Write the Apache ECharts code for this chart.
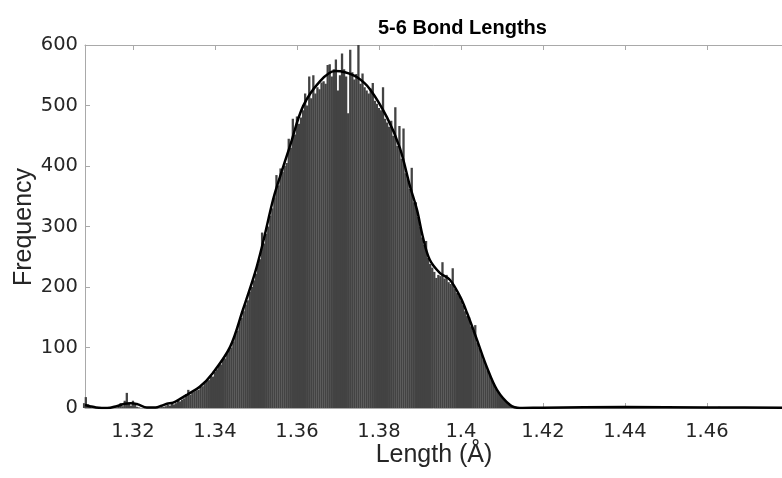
<!DOCTYPE html>
<html>
<head>
<meta charset="utf-8">
<script src="https://cdn.jsdelivr.net/npm/echarts@6/dist/echarts.min.js"></script>
<style>
html,body{margin:0;padding:0;background:#fff;}
#chart{width:782px;height:478px;}
</style>
</head>
<body>
<div id="chart"></div>
<script>
// Histogram: bin centres start at binStart, spaced by binWidth
var binStart = 1.3080;
var binWidth = 0.0005;
var counts = [
  8,18,6,3,1,0,0,0,0,0,
  0,0,0,1,0,2,1,4,8,3,
  12,25,9,4,12,5,2,1,0,0,
  0,0,0,1,0,1,2,1,3,2,
  3,5,4,9,6,8,12,11,14,16,
  23,30,22,25,27,29,30,35,36,42,
  45,46,53,52,60,64,70,72,83,82,
  90,96,100,110,122,128,142,149,160,171,
  178,192,200,211,222,238,246,290,272,288,
  300,318,330,348,385,368,396,390,400,405,
  445,430,478,452,482,470,480,492,520,500,
  548,512,550,520,530,527,538,540,536,567,
  568,548,560,576,525,550,586,560,548,487,
  592,555,543,552,600,536,553,530,525,520,
  528,537,508,503,496,492,530,478,472,465,
  475,450,497,433,466,412,462,388,378,362,
  397,340,340,316,300,282,270,276,248,238,
  232,225,215,220,218,241,214,220,208,205,
  231,197,190,185,178,170,160,152,150,135,
  128,137,108,99,90,80,72,62,55,46,
  40,32,27,22,18,14,11,8,5,4,
  3,2,1,1,0
];
// sparse tiny bars in the right tail
var tailX = [1.4160, 1.4205, 1.4290, 1.4400, 1.4475, 1.4630];
var tailY = [1, 1, 1, 2, 1, 2];

// Smoothed density curve
var curveX = [1.3083,1.3095,1.3110,1.3137,1.3160,1.3180,1.3195,1.3212,1.3234,1.3255,
  1.3270,1.3283,1.3298,1.3315,1.3332,1.3363,1.3395,1.3437,1.3468,1.3498,
  1.3517,1.3542,1.3559,1.3583,1.3615,1.3656,1.3693,1.3717,1.3746,1.3778,
  1.3820,1.3851,1.3876,1.3893,1.3907,1.3924,1.3949,1.3973,1.3998,1.4015,
  1.4039,1.4063,1.4088,1.4120,1.4144,1.4200,1.4400,1.4600,1.4832];
var curveY = [5,3,1,0,3,7,8,6,1,1,
  4,7,9,15,22,35,58,101,162,224,
  273,345,383,433,499,540,557,555,547,527,
  480,430,366,327,283,245,223,212,184,157,
  113,68,30,5,0,0.5,1.5,1,0.5];

var xTicks = [1.32,1.34,1.36,1.38,1.40,1.42,1.44,1.46];
var yTicks = [0,100,200,300,400,500,600];
var titleText = '5-6 Bond Lengths';
var xLabel = 'Length (Å)';
var yLabel = 'Frequency';

var xMin = 1.3083, xMax = 1.4832;

var barData = counts.map(function(c, i){ return [+(binStart + i*binWidth).toFixed(4), c]; });
for (var t = 0; t < tailX.length; t++) barData.push([tailX[t], tailY[t]]);
var lineData = curveX.map(function(x, i){ return [x, curveY[i]]; });

var FONT = '"Liberation Sans", Arial, Helvetica, sans-serif';
var TICKFONT = '"DejaVu Sans", sans-serif';
var axisGray = '#a9a9a9';

var chart = echarts.init(document.getElementById('chart'), null, {renderer:'canvas'});
chart.setOption({
  animation: false,
  backgroundColor: '#ffffff',
  title: {
    text: titleText,
    left: 373, top: 13,
    textStyle: {fontFamily: FONT, fontSize: 20, fontWeight: 'bold', color: '#000'}
  },
  grid: {left: 85, right: -20, top: 45, bottom: 70, containLabel: false, outerBoundsMode: 'none'},
  xAxis: [{
    type: 'value', min: xMin, max: xMax,
    axisLine: {show: true, onZero: false, lineStyle: {color: axisGray, width: 1}},
    axisTick: {show: true, inside: true, length: 5, customValues: xTicks, lineStyle: {color: axisGray}},
    axisLabel: {show: true, customValues: xTicks, margin: 14, color: '#262626', fontSize: 19.5, fontFamily: TICKFONT,
      formatter: function(v){ return String(+v.toFixed(2)); }},
    splitLine: {show: false}
  },{
    type: 'value', min: xMin, max: xMax, position: 'top',
    axisLine: {show: true, onZero: false, lineStyle: {color: axisGray, width: 1}},
    axisTick: {show: true, inside: true, length: 5, customValues: xTicks, lineStyle: {color: axisGray}},
    axisLabel: {show: false},
    splitLine: {show: false}
  }],
  yAxis: [{
    type: 'value', min: 0, max: 600, interval: 100,
    axisLine: {show: true, lineStyle: {color: axisGray, width: 1}},
    axisTick: {show: true, inside: true, length: 5, lineStyle: {color: axisGray}},
    axisLabel: {show: true, margin: 7, color: '#262626', fontSize: 19.5, fontFamily: TICKFONT},
    splitLine: {show: false}
  }],
  graphic: [{
    type: 'text', x: 434, y: 455,
    style: {text: xLabel, fill: '#262626', font: '25px ' + FONT, textAlign: 'center', textVerticalAlign: 'middle'}
  },{
    type: 'text', x: 24, y: 227, rotation: Math.PI / 2,
    style: {text: yLabel, fill: '#262626', font: '25px ' + FONT, textAlign: 'center', textVerticalAlign: 'middle'}
  }],
  series: [{
    type: 'bar',
    data: barData,
    barWidth: 2.3,
    xAxisIndex: 0, yAxisIndex: 0,
    itemStyle: {color: '#434343'},
    silent: true
  },{
    type: 'line',
    data: lineData,
    xAxisIndex: 0, yAxisIndex: 0,
    smooth: 0.35,
    showSymbol: false, symbol: 'none',
    lineStyle: {color: '#000', width: 2.5},
    clip: true, silent: true, z: 5
  }]
});
</script>
</body>
</html>
